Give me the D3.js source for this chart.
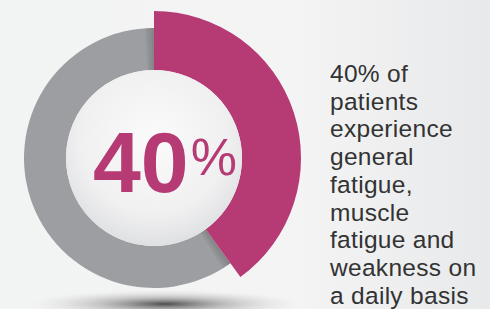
<!DOCTYPE html>
<html>
<head>
<meta charset="utf-8">
<script src="https://cdn.jsdelivr.net/npm/d3@7"></script>
<style>
  body { margin: 0; padding: 0; overflow: hidden; }
</style>
</head>
<body>
<svg id="chart" width="490" height="309"></svg>
<script>
// data
const categories = ["fatigue", "other"];
const values = [40, 60];
const bigLabel = "40";
const textLines = ["40% of", "patients", "experience", "general", "fatigue,", "muscle",
                   "fatigue and", "weakness on", "a daily basis"];

const W = 490, H = 309;
const cx = 154, cy = 158;
const innerR = 88, outerR = 130, hiOuterR = 147;
const magenta = "#b63a74", grey = "#9d9ea1";

const svg = d3.select("#chart");
const defs = svg.append("defs");

const bg = defs.append("linearGradient").attr("id", "bg")
    .attr("x1", 0).attr("y1", 0).attr("x2", 1).attr("y2", 0);
bg.append("stop").attr("offset", "0%").attr("stop-color", "#f2f3f3");
bg.append("stop").attr("offset", "60%").attr("stop-color", "#f4f4f5");
bg.append("stop").attr("offset", "100%").attr("stop-color", "#e8e9ea");

const inner = defs.append("radialGradient").attr("id", "inner")
    .attr("cx", "50%").attr("cy", "40%").attr("r", "60%");
inner.append("stop").attr("offset", "0%").attr("stop-color", "#fbfbfb");
inner.append("stop").attr("offset", "70%").attr("stop-color", "#f0f0f1");
inner.append("stop").attr("offset", "100%").attr("stop-color", "#dfe0e2");

const shadow = defs.append("radialGradient").attr("id", "shadow");
shadow.append("stop").attr("offset", "0%").attr("stop-color", "#3a3a3a").attr("stop-opacity", 0.9);
shadow.append("stop").attr("offset", "45%").attr("stop-color", "#8a8a8a").attr("stop-opacity", 0.5);
shadow.append("stop").attr("offset", "100%").attr("stop-color", "#d0d0d0").attr("stop-opacity", 0);

svg.append("rect").attr("width", W).attr("height", H).attr("fill", "url(#bg)");

// shadow under the ring
svg.append("ellipse")
    .attr("cx", 165).attr("cy", 304)
    .attr("rx", 135).attr("ry", 14)
    .attr("fill", "url(#shadow)");

const g = svg.append("g").attr("transform", `translate(${cx},${cy})`);

const pie = d3.pie().sort(null).value(d => d);
const arcs = pie(values);

const arc = d3.arc()
    .innerRadius(innerR)
    .outerRadius((d, i) => i === 0 ? hiOuterR : outerR);

// grey part first, then darker strips at the joins, then magenta
g.append("path").attr("d", arc(arcs[1], 1)).attr("fill", grey);

const stripArc = d3.arc().innerRadius(innerR).outerRadius(outerR);
const deg = Math.PI / 180;
[0, 1, 2, 3].forEach(k => {
  const op = 0.35 - k * 0.08;
  // near the start of the grey (end of magenta)
  g.append("path")
    .attr("d", stripArc({startAngle: arcs[1].startAngle + k * deg, endAngle: arcs[1].startAngle + (k + 1) * deg}))
    .attr("fill", "#55575a").attr("opacity", op);
  // near the end of the grey (top)
  g.append("path")
    .attr("d", stripArc({startAngle: arcs[1].endAngle - (k + 1) * deg, endAngle: arcs[1].endAngle - k * deg}))
    .attr("fill", "#55575a").attr("opacity", op);
});

g.append("path").attr("d", arc(arcs[0], 0)).attr("fill", magenta);

g.append("circle").attr("r", innerR).attr("fill", "url(#inner)");

// big number
const big = svg.append("text")
    .attr("x", 93).attr("y", 192)
    .attr("fill", magenta)
    .attr("font-family", "'Liberation Sans', Arial, sans-serif");
big.append("tspan").attr("font-size", 86).attr("font-weight", "bold").text(bigLabel);
big.append("tspan").attr("font-size", 52).attr("dy", -17).attr("dx", 2).text("%");

// description
svg.append("text")
    .attr("x", 330)
    .attr("font-family", "'Liberation Sans', Arial, sans-serif")
    .attr("font-size", 24.5)
    .attr("letter-spacing", 0.3)
    .attr("fill", "#333333")
    .selectAll("tspan")
    .data(textLines)
    .join("tspan")
    .attr("x", 330)
    .attr("y", (d, i) => 82 + i * 27.7)
    .text(d => d);
</script>
</body>
</html>
